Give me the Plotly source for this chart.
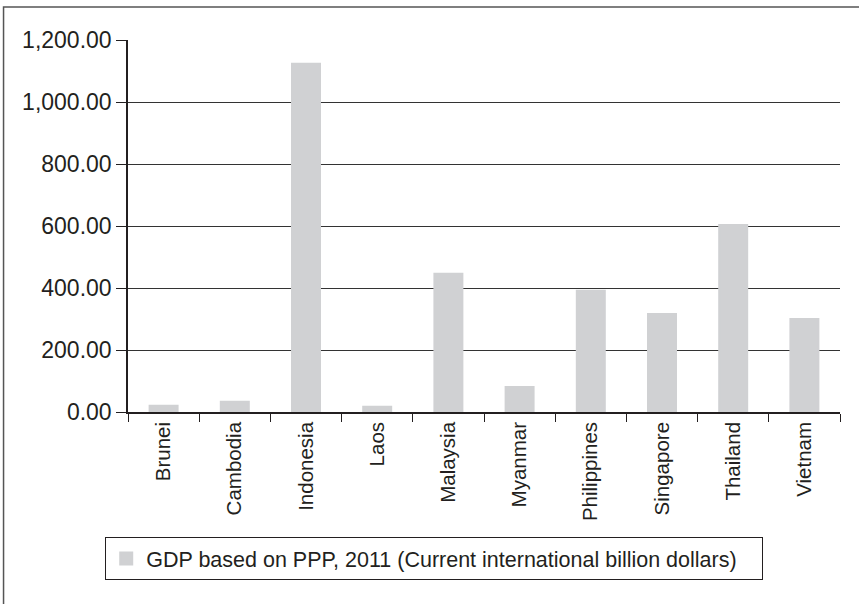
import plotly.graph_objects as go

countries = ["Brunei", "Cambodia", "Indonesia", "Laos", "Malaysia", "Myanmar",
             "Philippines", "Singapore", "Thailand", "Vietnam"]
gdp_ppp_2011 = [20, 33, 1123, 17, 446, 81, 391, 316, 603, 300]
series_name = "GDP based on PPP, 2011 (Current international billion dollars)"
y_ticks = [0, 200, 400, 600, 800, 1000, 1200]
y_tick_labels = ["0.00", "200.00", "400.00", "600.00", "800.00", "1,000.00", "1,200.00"]

FONT = "Liberation Sans, Arial, Helvetica, sans-serif"
BAR = "#d0d1d3"
INK = "#231f20"

fig = go.Figure()
fig.add_trace(go.Bar(
    x=countries, y=gdp_ppp_2011, name=series_name,
    marker=dict(color=BAR, line=dict(width=2, color=BAR)),
    showlegend=True,
))

fig.update_layout(
    width=859, height=604,
    margin=dict(l=128, r=19, t=40, b=192, autoexpand=False),
    paper_bgcolor="white", plot_bgcolor="white",
    font=dict(family=FONT, size=21, color=INK),
    bargap=0.607,
    showlegend=True,
    legend=dict(
        orientation="h",
        x=-0.032, y=-0.336, xanchor="left", yanchor="top",
        bordercolor=INK, borderwidth=1, bgcolor="white",
        font=dict(family=FONT, size=21.5, color=INK),
        entrywidth=611, entrywidthmode="pixels",
    ),
    xaxis=dict(
        type="category", tickangle=-90, tickson="boundaries",
        ticks="outside", ticklen=8, tickcolor=INK, tickwidth=1,
        showline=True, linecolor=INK, linewidth=1.5,
        showgrid=False, tickfont=dict(size=20.5),
    ),
    yaxis=dict(
        range=[0, 1200], tickvals=y_ticks, ticktext=y_tick_labels,
        ticks="outside", ticklen=10, tickcolor=INK, tickwidth=1,
        showline=True, linecolor=INK, linewidth=1.5,
        showgrid=True, gridcolor="#333333", gridwidth=1.3,
        zeroline=False, tickfont=dict(size=23),
    ),
    shapes=[dict(
        type="rect", xref="paper", yref="paper",
        x0=-0.1748, x1=1.1, y0=-0.7, y1=1.0887,
        line=dict(color="#555555", width=1.5), layer="below",
    )],
)

fig.write_html("out.html", config={"displayModeBar": False},
               post_script="document.body.style.margin='0';")
